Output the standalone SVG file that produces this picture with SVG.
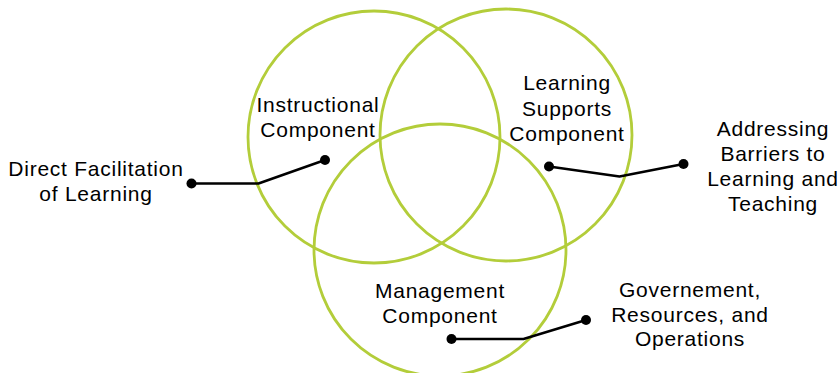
<svg xmlns="http://www.w3.org/2000/svg" width="839" height="373" viewBox="0 0 839 373">
<style>
.c{fill:none;stroke:#B3CD3A;stroke-width:2.8}
.t{font-family:"Liberation Sans",Arial,sans-serif;font-size:21px;letter-spacing:0.75px;fill:#000;text-anchor:middle}
.l{fill:none;stroke:#000;stroke-width:2.5;stroke-linejoin:round}
.d{fill:#000}
</style>
<rect width="839" height="373" fill="#fff"/>
<g id="instructional">
<circle class="c" cx="374" cy="137" r="126"/>
<text class="t" x="318" y="112">Instructional</text>
<text class="t" x="318" y="137">Component</text>
</g>
<g id="learning-supports">
<circle class="c" cx="506" cy="135" r="126"/>
<text class="t" x="567" y="90">Learning</text>
<text class="t" x="567" y="115.5">Supports</text>
<text class="t" x="567" y="140.5">Component</text>
</g>
<g id="management">
<circle class="c" cx="440" cy="250" r="126"/>
<text class="t" x="440" y="297.5">Management</text>
<text class="t" x="440" y="322.5">Component</text>
</g>
<g id="direct-facilitation">
<text class="t" x="96" y="175.5">Direct Facilitation</text>
<text class="t" x="96" y="201">of Learning</text>
</g>
<g id="addressing-barriers">
<text class="t" x="773" y="135.5">Addressing</text>
<text class="t" x="773" y="160.5">Barriers to</text>
<text class="t" x="773" y="186">Learning and</text>
<text class="t" x="773" y="211">Teaching</text>
</g>
<g id="governance">
<text class="t" x="690" y="296.5">Governement,</text>
<text class="t" x="690" y="321.5">Resources, and</text>
<text class="t" x="690" y="346">Operations</text>
</g>
<g id="connectors">
<polyline class="l" points="191.5,183.5 258.5,183.5 325,160"/>
<circle class="d" cx="191.5" cy="183.5" r="5"/>
<circle class="d" cx="325" cy="160" r="5"/>
<polyline class="l" points="549,166.5 619.5,176.5 683.5,164"/>
<circle class="d" cx="549" cy="166.5" r="5"/>
<circle class="d" cx="683.5" cy="164" r="5"/>
<polyline class="l" points="451.5,339 523.5,339 586,320"/>
<circle class="d" cx="451.5" cy="339" r="5"/>
<circle class="d" cx="586" cy="320" r="5"/>
</g>
</svg>
